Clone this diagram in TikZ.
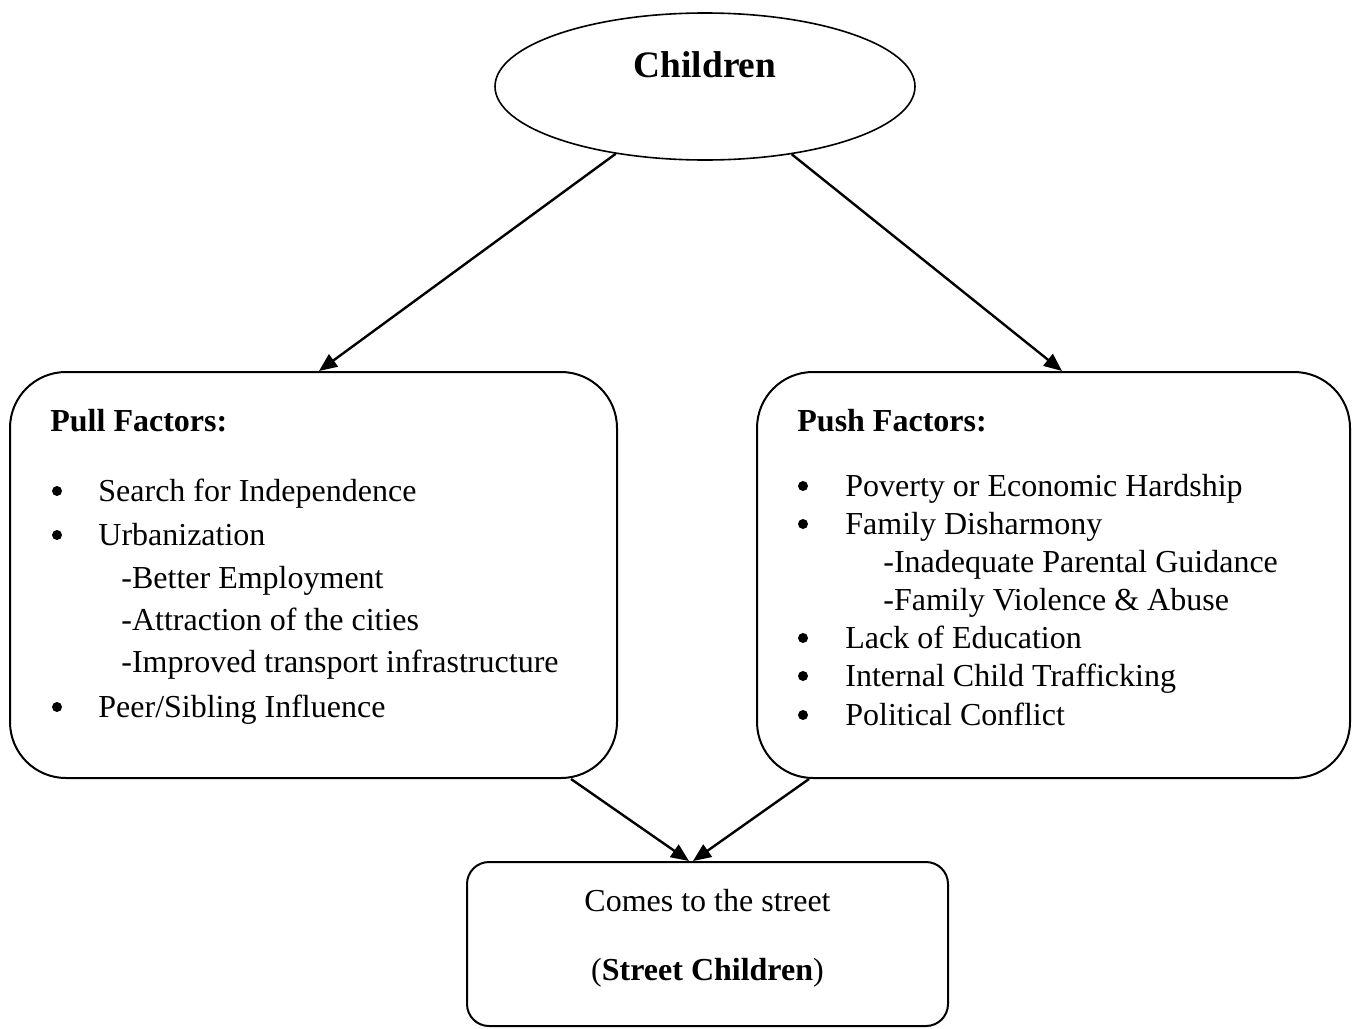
\documentclass[tikz,border=0pt]{standalone}
\usepackage{fontspec}
\setmainfont{Liberation Serif}
\usetikzlibrary{arrows.meta,calc,shapes.geometric}
\begin{document}
\begin{tikzpicture}[x=0.5pt,y=-0.5pt,
  txt/.style={inner sep=0pt,anchor=base west,font=\fontsize{16pt}{19pt}\selectfont},
  ctxt/.style={inner sep=0pt,anchor=base,font=\fontsize{16pt}{19pt}\selectfont},
  bul/.style={circle,fill=black,inner sep=0pt,minimum size=5pt},
  bigbox/.style={draw,line width=1pt,rounded corners=28pt,inner sep=0pt},
  smallbox/.style={draw,line width=1pt,rounded corners=11pt,inner sep=0pt},
  conn/.style={line width=1.2pt,-{Triangle[length=9pt,width=7.5pt]}}]
\useasboundingbox (0,0) rectangle (1353,1028);

% top ellipse
\node[draw,ellipse,line width=0.8pt,minimum width=210pt,minimum height=73.5pt,inner sep=0pt] (ell) at (705,86.5) {};
\node[inner sep=0pt,anchor=base,font=\fontsize{18.67pt}{22pt}\selectfont\bfseries] (ttl) at (705,77) {Children};

% boxes
\node[bigbox,minimum width=303.5pt,minimum height=203pt] (pull) at (313.5,575) {};
\node[bigbox,minimum width=296.5pt,minimum height=203pt] (push) at (1053.5,575) {};
\node[smallbox,minimum width=240.5pt,minimum height=82pt] (street) at (707.5,944) {};

% pull factors text
\node[txt,font=\fontsize{16pt}{19pt}\selectfont\bfseries] (pullh) at (50,431) {Pull Factors:};
\node[bul] (pb1) at (57,491) {};
\node[txt] (pt1) at (98,501) {Search for Independence};
\node[bul] (pb2) at (57,535) {};
\node[txt] (pt2) at (98,545) {Urbanization};
\node[txt] (ps1) at (121,588) {-Better Employment};
\node[txt] (ps2) at (121,630) {-Attraction of the cities};
\node[txt] (ps3) at (121,672) {-Improved transport infrastructure};
\node[bul] (pb3) at (57,707) {};
\node[txt] (pt3) at (98,717) {Peer/Sibling Influence};

% push factors text
\node[txt,font=\fontsize{16pt}{19pt}\selectfont\bfseries] (pushh) at (797,431) {Push Factors:};
\node[bul] (qb1) at (803,486) {};
\node[txt] (qt1) at (845,496) {Poverty or Economic Hardship};
\node[bul] (qb2) at (803,524) {};
\node[txt] (qt2) at (845,534) {Family Disharmony};
\node[txt] (qs1) at (883,572) {-Inadequate Parental Guidance};
\node[txt] (qs2) at (883,610) {-Family Violence \& Abuse};
\node[bul] (qb3) at (803,638) {};
\node[txt] (qt3) at (845,648) {Lack of Education};
\node[bul] (qb4) at (803,676) {};
\node[txt] (qt4) at (845,686) {Internal Child Trafficking};
\node[bul] (qb5) at (803,715) {};
\node[txt] (qt5) at (845,725) {Political Conflict};

% bottom text
\node[ctxt] (st1) at (707.5,911) {Comes to the street};
\node[ctxt] (st2) at (707.5,980) {(\textbf{Street Children})};

% connectors
\draw[conn] (ell.217) -- ($(pull.north west)+(310,0)$);
\draw[conn] (ell.322) -- ($(push.north west)+(306,0)$);
\draw[conn] ($(pull.south west)+(562,0)$) -- ($(street.north west)+(223,0)$);
\draw[conn] ($(push.south west)+(53,0)$) -- ($(street.north west)+(227,0)$);
\end{tikzpicture}
\end{document}
